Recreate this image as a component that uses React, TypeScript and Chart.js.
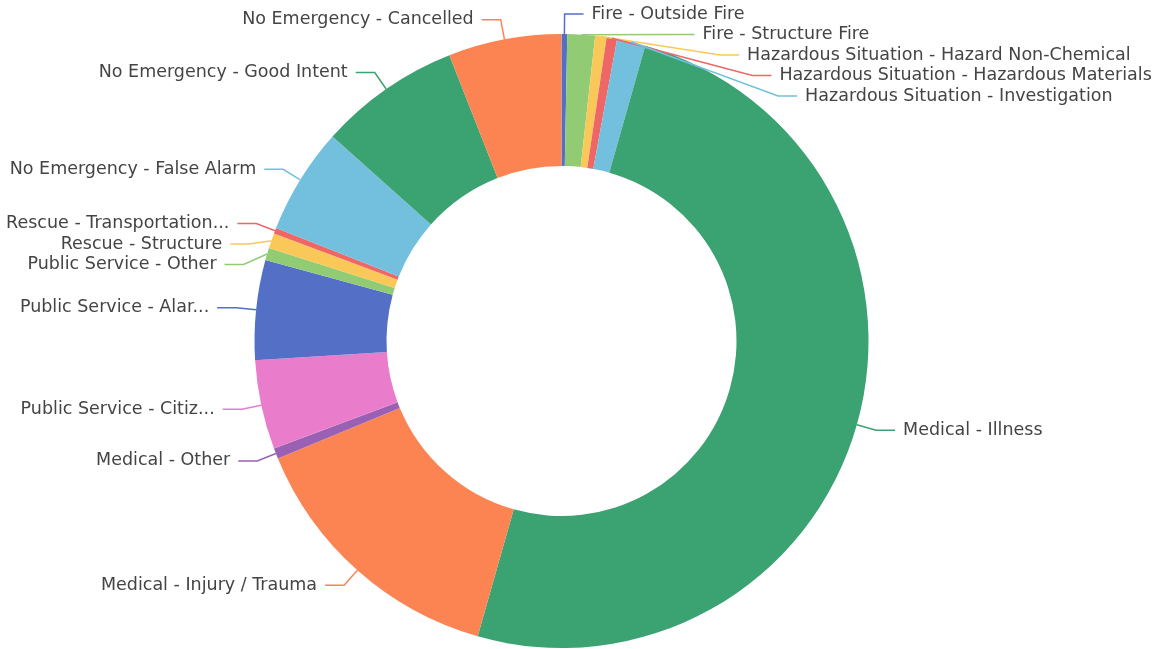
import React, { useEffect, useRef } from 'react';
import { Chart, registerables } from 'chart.js';

Chart.register(...registerables);

const categories = [
  'Fire - Outside Fire',
  'Fire - Structure Fire',
  'Hazardous Situation - Hazard Non-Chemical',
  'Hazardous Situation - Hazardous Materials',
  'Hazardous Situation - Investigation',
  'Medical - Illness',
  'Medical - Injury / Trauma',
  'Medical - Other',
  'Public Service - Citiz...',
  'Public Service - Alar...',
  'Public Service - Other',
  'Rescue - Structure',
  'Rescue - Transportation...',
  'No Emergency - False Alarm',
  'No Emergency - Good Intent',
  'No Emergency - Cancelled',
];

const incidentCounts = [6, 29, 12, 11, 30, 1000, 287, 11, 94, 105, 13, 16, 6, 112, 149, 119];

const sliceColors = [
  '#5470c6', '#91cc75', '#fac858', '#ee6666', '#73c0de', '#3ba272', '#fc8452', '#9a60b4',
  '#ea7ccc', '#5470c6', '#91cc75', '#fac858', '#ee6666', '#73c0de', '#3ba272', '#fc8452',
];

const LINE1 = 20;
const LINE2 = 19;
const TEXT_GAP = 8;
const LABEL_H = 20.5;
const FONT = '17.5px "DejaVu Sans"';

const outsideLabels = {
  id: 'outsideLabels',
  afterDatasetsDraw(chart: any) {
    const ctx = chart.ctx;
    const meta = chart.getDatasetMeta(0);
    const labels = chart.data.labels as string[];
    const colors = chart.data.datasets[0].backgroundColor as string[];
    const items: any[] = [];
    meta.data.forEach((arc: any, i: number) => {
      const p = arc.getProps(['x', 'y', 'startAngle', 'endAngle', 'outerRadius'], true);
      const mid = (p.startAngle + p.endAngle) / 2;
      const cos = Math.cos(mid);
      const sin = Math.sin(mid);
      const R = p.outerRadius + LINE1;
      items.push({
        i,
        cx: p.x,
        cy: p.y,
        R,
        sx: p.x + p.outerRadius * cos,
        sy: p.y + p.outerRadius * sin,
        y: p.y + R * sin,
        right: cos >= 0,
      });
    });
    const minY = 12;
    const maxY = chart.height - 12;
    [true, false].forEach((side) => {
      const list = items.filter((it) => it.right === side).sort((a, b) => a.y - b.y);
      for (let k = 0; k < list.length; k++) {
        if (k === 0) list[k].y = Math.max(list[k].y, minY);
        else list[k].y = Math.max(list[k].y, list[k - 1].y + LABEL_H);
      }
      for (let k = list.length - 1; k >= 0; k--) {
        if (k === list.length - 1) list[k].y = Math.min(list[k].y, maxY);
        else list[k].y = Math.min(list[k].y, list[k + 1].y - LABEL_H);
      }
    });
    ctx.save();
    ctx.font = FONT;
    ctx.textBaseline = 'middle';
    items.forEach((it) => {
      const dy = it.y - it.cy;
      const dx = Math.sqrt(Math.max(it.R * it.R - dy * dy, 0));
      const dir = it.right ? 1 : -1;
      const kx = it.cx + dir * dx;
      const ex = kx + dir * LINE2;
      ctx.strokeStyle = colors[it.i];
      ctx.lineWidth = 1.5;
      ctx.beginPath();
      ctx.moveTo(it.sx, it.sy);
      ctx.lineTo(kx, it.y);
      ctx.lineTo(ex, it.y);
      ctx.stroke();
      ctx.fillStyle = '#444444';
      ctx.textAlign = it.right ? 'left' : 'right';
      ctx.fillText(labels[it.i], ex + dir * TEXT_GAP, it.y);
    });
    ctx.restore();
  },
};

export default function App() {
  const canvasRef = useRef<HTMLCanvasElement | null>(null);

  useEffect(() => {
    document.body.style.margin = '0';
    const canvas = canvasRef.current;
    if (!canvas) return;
    const chart = new Chart(canvas, {
      type: 'doughnut',
      data: {
        labels: categories,
        datasets: [
          {
            data: incidentCounts,
            backgroundColor: sliceColors,
            borderWidth: 0,
          },
        ],
      },
      options: {
        animation: false,
        responsive: false,
        devicePixelRatio: 1,
        cutout: '57%',
        layout: { padding: { top: 34, bottom: 1, left: 0, right: 31 } },
        plugins: {
          legend: { display: false },
          tooltip: { enabled: false },
        },
      },
      plugins: [outsideLabels],
    });
    return () => chart.destroy();
  }, []);

  return (
    <div style={{ position: 'absolute', left: 0, top: 0, width: 1154, height: 649, background: '#fff' }}>
      <canvas ref={canvasRef} width={1154} height={649} style={{ display: 'block' }} />
    </div>
  );
}
